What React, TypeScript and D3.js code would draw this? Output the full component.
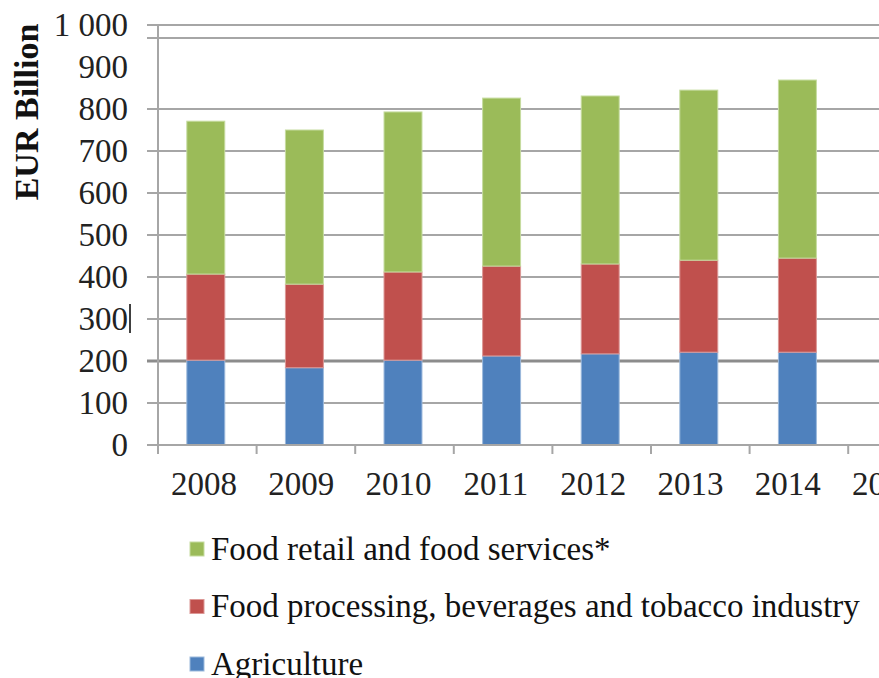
import React from "react";
import * as d3 from "d3";

const years = ["2008", "2009", "2010", "2011", "2012", "2013", "2014", "2015"];
const agriculture = [202, 184, 202, 212, 217, 221, 221, null];
const foodProcessing = [205, 199, 210, 214, 214, 219, 224, null];
const foodRetail = [364, 367, 381, 400, 400, 405, 424, null];
const yTicks = [0, 100, 200, 300, 400, 500, 600, 700, 800, 900, 1000];
const yTickLabels = ["0", "100", "200", "300", "400", "500", "600", "700", "800", "900", "1 000"];
const gridValues = [100, 200, 300, 400, 500, 600, 700, 800, 969, 1000];
const seriesNames = [
  "Food retail and food services*",
  "Food processing, beverages and tobacco industry",
  "Agriculture",
];
const seriesColors = ["#9BBB59", "#C0504D", "#4F81BD"];
const seriesStroke = ["#c6dca0", "#dc9896", "#9cb9dc"];

export default function App() {
  const W = 879, H = 678;
  const x0 = 158, step = 98.6;
  const x = d3.scaleBand<string>().domain(years).range([x0, x0 + step * years.length]).padding(0);
  const xl = d3.scalePoint<string>().domain(years).range([204, 204 + 97.3 * (years.length - 1)]);
  const y = d3.scaleLinear().domain([0, 1000]).range([445, 25]);
  const bw = x.bandwidth() * 0.385;
  const font = "'Liberation Serif', 'Times New Roman', serif";
  const fs = 33;

  const stacks = years.map((yr, i) => {
    const a = agriculture[i], b = foodProcessing[i], c = foodRetail[i];
    if (a == null || b == null || c == null) return [];
    return [
      { y0: 0, y1: a, k: 2 },
      { y0: a, y1: a + b, k: 1 },
      { y0: a + b, y1: a + b + c, k: 0 },
    ];
  });

  return (
    <svg width={W} height={H} style={{ position: "absolute", left: 0, top: 0, background: "#fff" }}>
      {gridValues.map((v) => (
        <line key={"g" + v} x1={147} x2={W} y1={y(v)} y2={y(v)}
          stroke={v === 200 ? "#8c8c8c" : "#a6a6a6"} strokeWidth={v === 200 ? 3 : 2} />
      ))}
      <line x1={x0} x2={x0} y1={y(1000)} y2={y(0)} stroke="#a6a6a6" strokeWidth={2} />
      {stacks.map((segs, i) =>
        segs.map((s) => (
          <rect key={years[i] + s.k}
            x={(x(years[i]) as number) + (x.bandwidth() - bw) / 2 - 1.5}
            y={y(s.y1)} width={bw} height={y(s.y0) - y(s.y1)}
            fill={seriesColors[s.k]} stroke={seriesStroke[s.k]} strokeWidth={1} />
        ))
      )}
      <line x1={147} x2={W} y1={y(0)} y2={y(0)} stroke="#a6a6a6" strokeWidth={2} />
      {years.map((yr) => (
        <line key={"t" + yr} x1={x(yr) as number} x2={x(yr) as number} y1={y(0)} y2={y(0) + 9}
          stroke="#a6a6a6" strokeWidth={2} />
      ))}
      <line x1={x0 + step * years.length} x2={x0 + step * years.length} y1={y(0)} y2={y(0) + 9} stroke="#a6a6a6" strokeWidth={2} />
      {yTicks.map((v, i) => (
        <text key={"yl" + v} x={128} y={y(v)} dy="0.33em" textAnchor="end"
          fontFamily={font} fontSize={fs} fill="#222">{yTickLabels[i]}</text>
      ))}
      <line x1={130} x2={130} y1={y(300) - 15} y2={y(300) + 14} stroke="#000" strokeWidth={1.5} />
      {years.map((yr) => (
        <text key={"xl" + yr} x={xl(yr) as number} y={484} dy="0.33em"
          textAnchor="middle" fontFamily={font} fontSize={fs} fill="#222">{yr}</text>
      ))}
      <text transform={`translate(38,${112}) rotate(-90)`} textAnchor="middle"
        fontFamily={font} fontSize={34} fontWeight="bold" fill="#111">EUR Billion</text>
      {seriesNames.map((n, i) => (
        <g key={n} transform={`translate(190,${549 + i * 57.5})`}>
          <rect x={0} y={-7} width={14} height={14} fill={seriesColors[i]} stroke={seriesStroke[i]} strokeWidth={1} />
          <text x={21} y={0} dy="0.33em" fontFamily={font} fontSize={fs} fill="#111">{n}</text>
        </g>
      ))}
    </svg>
  );
}
